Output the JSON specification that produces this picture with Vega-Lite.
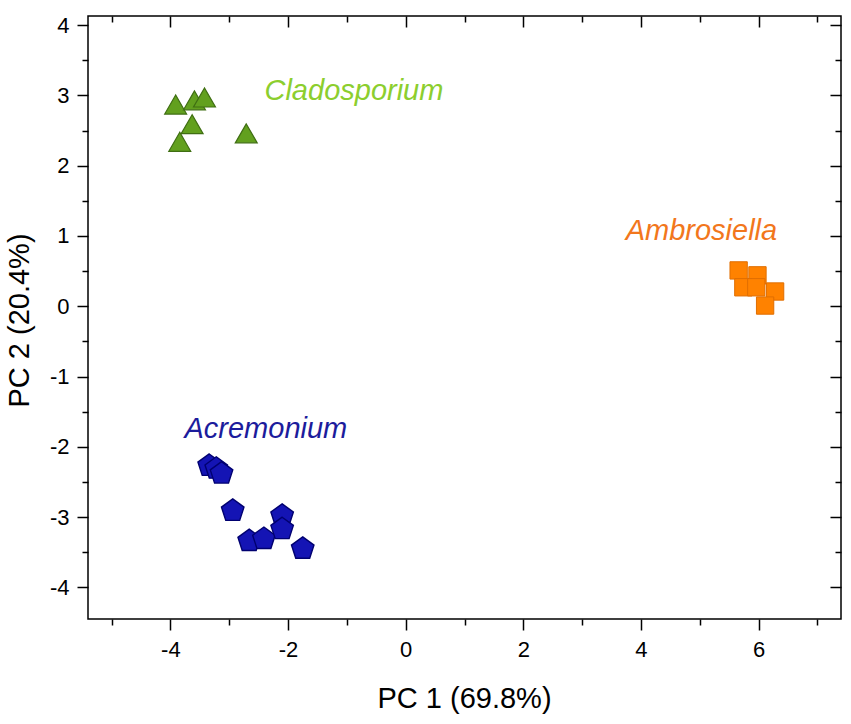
{
  "$schema": "https://vega.github.io/schema/vega-lite/v6.json",
  "width": 753,
  "height": 603,
  "autosize": "none",
  "padding": {"left": 88, "top": 16, "right": 10, "bottom": 105},
  "background": "white",
  "view": {"stroke": "black", "strokeWidth": 1.5},
  "datasets": {
    "scores": [
      {"pc1": -3.91, "pc2": 2.87, "genus": "Cladosporium"},
      {"pc1": -3.59, "pc2": 2.93, "genus": "Cladosporium"},
      {"pc1": -3.42, "pc2": 2.97, "genus": "Cladosporium"},
      {"pc1": -3.63, "pc2": 2.59, "genus": "Cladosporium"},
      {"pc1": -3.84, "pc2": 2.34, "genus": "Cladosporium"},
      {"pc1": -2.71, "pc2": 2.46, "genus": "Cladosporium"},
      {"pc1": 5.66, "pc2": 0.51, "genus": "Ambrosiella"},
      {"pc1": 5.98, "pc2": 0.44, "genus": "Ambrosiella"},
      {"pc1": 5.74, "pc2": 0.27, "genus": "Ambrosiella"},
      {"pc1": 5.96, "pc2": 0.27, "genus": "Ambrosiella"},
      {"pc1": 6.28, "pc2": 0.21, "genus": "Ambrosiella"},
      {"pc1": 6.11, "pc2": 0.01, "genus": "Ambrosiella"},
      {"pc1": -3.34, "pc2": -2.27, "genus": "Acremonium"},
      {"pc1": -3.22, "pc2": -2.31, "genus": "Acremonium"},
      {"pc1": -3.13, "pc2": -2.38, "genus": "Acremonium"},
      {"pc1": -2.94, "pc2": -2.91, "genus": "Acremonium"},
      {"pc1": -2.66, "pc2": -3.34, "genus": "Acremonium"},
      {"pc1": -2.41, "pc2": -3.31, "genus": "Acremonium"},
      {"pc1": -2.10, "pc2": -2.98, "genus": "Acremonium"},
      {"pc1": -2.10, "pc2": -3.17, "genus": "Acremonium"},
      {"pc1": -1.75, "pc2": -3.45, "genus": "Acremonium"}
    ],
    "labels": [
      {"pc1": -2.40, "pc2": 2.93, "genus": "Cladosporium"},
      {"pc1": 3.74, "pc2": 0.94, "genus": "Ambrosiella"},
      {"pc1": -3.76, "pc2": -1.87, "genus": "Acremonium"}
    ]
  },
  "layer": [
    {
      "data": {"name": "scores"},
      "transform": [{"filter": "datum.genus == 'Cladosporium'"}],
      "mark": {
        "type": "point",
        "shape": "triangle-up",
        "size": 480,
        "filled": true,
        "opacity": 1,
        "fill": "#62a01e",
        "stroke": "#3f6e12",
        "strokeWidth": 1.2
      },
      "encoding": {
        "x": {
          "field": "pc1",
          "type": "quantitative",
          "scale": {"domain": [-5.4, 7.4], "nice": false, "zero": false},
          "axis": {
            "orient": "bottom",
            "title": "PC 1 (69.8%)",
            "values": [-5, -4, -3, -2, -1, 0, 1, 2, 3, 4, 5, 6, 7],
            "labelExpr": "datum.value % 2 == 0 ? '' + datum.value : ''",
            "labelFontSize": 22,
            "tickSize": {"condition": {"test": "datum.value % 2 == 0", "value": 11}, "value": 6},
            "labelPadding": 9,
            "titleX": 376,
            "titleY": 88,
            "titleBaseline": "alphabetic"
          }
        },
        "y": {
          "field": "pc2",
          "type": "quantitative",
          "scale": {"domain": [-4.45, 4.13], "nice": false, "zero": false},
          "axis": {
            "orient": "left",
            "title": "PC 2 (20.4%)",
            "values": [-4, -3.5, -3, -2.5, -2, -1.5, -1, -0.5, 0, 0.5, 1, 1.5, 2, 2.5, 3, 3.5, 4],
            "labelExpr": "datum.value % 1 == 0 ? '' + datum.value : ''",
            "labelFontSize": 22,
            "tickSize": {"condition": {"test": "datum.value % 1 == 0", "value": 11}, "value": 6},
            "labelPadding": 8,
            "titleX": -60,
            "titleY": 304,
            "titleBaseline": "alphabetic"
          }
        }
      }
    },
    {
      "data": {"name": "labels"},
      "mark": {
        "type": "text",
        "align": "left",
        "baseline": "alphabetic",
        "font": "Liberation Sans",
        "fontSize": 29,
        "fontStyle": "italic"
      },
      "encoding": {
        "x": {
          "field": "pc1",
          "type": "quantitative",
          "axis": {
            "orient": "top",
            "title": null,
            "labels": false,
            "values": [-5, -4, -3, -2, -1, 0, 1, 2, 3, 4, 5, 6, 7],
            "tickSize": {"condition": {"test": "datum.value % 2 == 0", "value": -11}, "value": -6}
          }
        },
        "y": {
          "field": "pc2",
          "type": "quantitative",
          "axis": {
            "orient": "right",
            "title": null,
            "labels": false,
            "values": [-4, -3.5, -3, -2.5, -2, -1.5, -1, -0.5, 0, 0.5, 1, 1.5, 2, 2.5, 3, 3.5, 4],
            "tickSize": {"condition": {"test": "datum.value % 1 == 0", "value": -11}, "value": -6}
          }
        },
        "text": {"field": "genus", "type": "nominal"},
        "color": {
          "field": "genus",
          "type": "nominal",
          "scale": {"domain": ["Cladosporium", "Ambrosiella", "Acremonium"], "range": ["#8cce2e", "#f2771c", "#1c1c9c"]},
          "legend": null
        }
      }
    },
    {
      "data": {"name": "scores"},
      "transform": [{"filter": "datum.genus == 'Ambrosiella'"}],
      "mark": {
        "type": "point",
        "shape": "square",
        "size": 300,
        "filled": true,
        "opacity": 1,
        "fill": "#ff8200",
        "stroke": "#e06e00",
        "strokeWidth": 1
      },
      "encoding": {
        "x": {"field": "pc1", "type": "quantitative", "axis": null},
        "y": {"field": "pc2", "type": "quantitative", "axis": null}
      }
    },
    {
      "data": {"name": "scores"},
      "transform": [{"filter": "datum.genus == 'Acremonium'"}],
      "mark": {
        "type": "point",
        "shape": "M0,-1L0.951,-0.309L0.588,0.809L-0.588,0.809L-0.951,-0.309Z",
        "size": 560,
        "filled": true,
        "opacity": 1,
        "fill": "#1414b4",
        "stroke": "#000070",
        "strokeWidth": 1.4
      },
      "encoding": {
        "x": {"field": "pc1", "type": "quantitative", "axis": null},
        "y": {"field": "pc2", "type": "quantitative", "axis": null}
      }
    }
  ],
  "resolve": {
    "axis": {"x": "independent", "y": "independent"}
  },
  "config": {
    "font": "Liberation Sans",
    "axis": {
      "domain": false,
      "grid": false,
      "ticks": true,
      "tickColor": "black",
      "tickWidth": 1.5,
      "labelColor": "black",
      "labelFont": "Liberation Sans",
      "titleColor": "black",
      "titleFont": "Liberation Sans",
      "titleFontSize": 29,
      "titleFontWeight": "normal"
    }
  }
}
